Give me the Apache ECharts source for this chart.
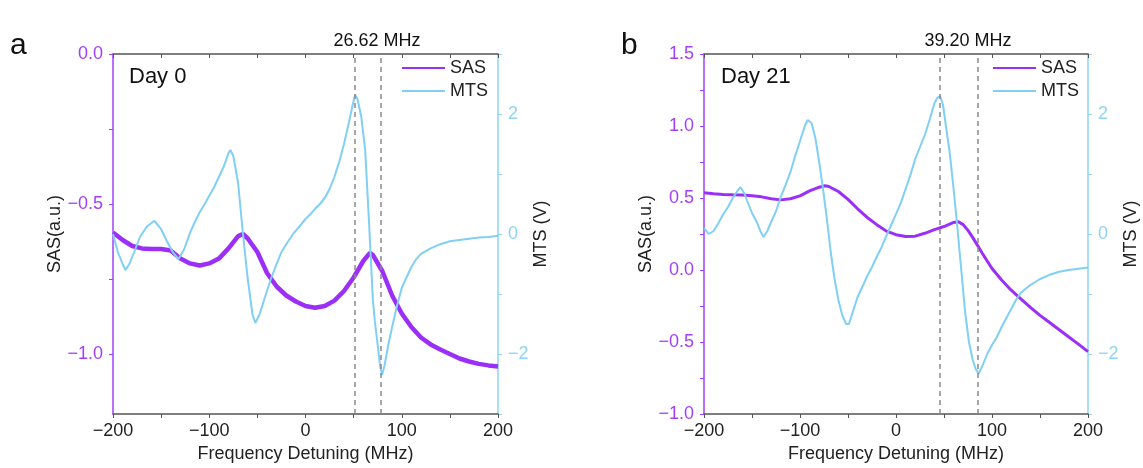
<!DOCTYPE html>
<html>
<head>
<meta charset="utf-8">
<script src="https://cdn.jsdelivr.net/npm/echarts@6/dist/echarts.min.js"></script>
<style>
html,body{margin:0;padding:0;background:#fff;}
#chart{width:1143px;height:468px;}
</style>
</head>
<body>
<div id="chart"></div>
<script>
// ---------- Panel a (Day 0) ----------
const freqSasA = [-200,-190,-180,-170,-160,-150,-140,-130,-120,-110,-100,-90,-80,-70,-65,-60,-50,-40,-30,-20,-10,0,10,20,30,40,50,60,67,70,80,90,100,110,120,130,140,150,160,170,180,190,200];
const sasA = [-0.595,-0.62,-0.64,-0.648,-0.65,-0.65,-0.655,-0.682,-0.698,-0.705,-0.698,-0.682,-0.648,-0.607,-0.600,-0.615,-0.66,-0.73,-0.775,-0.805,-0.825,-0.84,-0.846,-0.84,-0.822,-0.79,-0.745,-0.69,-0.663,-0.67,-0.725,-0.805,-0.865,-0.91,-0.945,-0.968,-0.985,-1.0,-1.015,-1.025,-1.033,-1.038,-1.042];
const freqMtsA = [-200,-195,-190,-187,-183,-178,-172,-165,-157,-150,-144,-138,-132,-126,-120,-115,-110,-103,-95,-90,-85,-80,-78,-75,-70,-65,-60,-55,-52,-48,-44,-40,-36,-30,-25,-18,-12,-5,0,5,10,15,20,25,30,35,40,45,49,51.5,54,58,62,64,66,68,70,72,75,77.5,79.5,82,86,90,95,100,105,110,115,120,130,140,150,160,170,180,190,200];
const mtsA = [0.0,-0.3,-0.5,-0.6,-0.5,-0.3,-0.05,0.12,0.22,0.08,-0.12,-0.3,-0.42,-0.25,0.02,0.2,0.36,0.55,0.78,0.95,1.12,1.35,1.4,1.3,0.85,0.0,-0.75,-1.35,-1.48,-1.35,-1.15,-0.95,-0.75,-0.5,-0.3,-0.12,0.02,0.15,0.25,0.33,0.42,0.5,0.6,0.75,0.95,1.2,1.5,1.85,2.15,2.32,2.25,1.95,1.4,0.8,0.2,-0.45,-1.1,-1.45,-1.85,-2.2,-2.35,-2.2,-1.85,-1.55,-1.2,-0.9,-0.72,-0.55,-0.42,-0.33,-0.24,-0.17,-0.12,-0.1,-0.08,-0.06,-0.05,-0.03];
const markersA = [51.6, 78.2];
const labelA = ['a', 'Day 0', '26.62 MHz'];

// ---------- Panel b (Day 21) ----------
const freqSasB = [-200,-190,-180,-170,-160,-150,-140,-130,-120,-110,-100,-90,-80,-74,-70,-60,-50,-40,-30,-20,-10,0,10,20,30,40,50,60,65,70,75,80,85,90,100,110,120,130,140,150,160,170,180,190,200];
const sasB = [0.537,0.53,0.525,0.522,0.52,0.515,0.508,0.495,0.487,0.495,0.515,0.55,0.575,0.585,0.58,0.545,0.49,0.425,0.365,0.315,0.27,0.245,0.232,0.235,0.255,0.28,0.302,0.33,0.335,0.315,0.275,0.225,0.17,0.115,0.01,-0.07,-0.14,-0.2,-0.26,-0.315,-0.365,-0.415,-0.465,-0.515,-0.567];
const freqMtsB = [-200,-195,-190,-185,-180,-175,-170,-165,-162,-158,-155,-150,-145,-141,-138,-134,-130,-125,-120,-115,-110,-105,-100,-95,-92,-88,-84,-80,-76,-72,-68,-64,-60,-56,-52,-49,-45,-40,-35,-30,-25,-20,-15,-10,-5,0,5,10,15,20,25,30,35,40,43,46,49,52,56,60,64,68,72,76,80,83,86,90,95,100,105,110,115,120,125,130,140,150,160,170,180,190,200];
const mtsB = [0.1,0.0,0.05,0.18,0.33,0.45,0.6,0.72,0.78,0.68,0.55,0.35,0.2,0.04,-0.05,0.05,0.2,0.38,0.62,0.82,1.03,1.3,1.55,1.8,1.9,1.85,1.6,1.2,0.75,0.25,-0.3,-0.75,-1.1,-1.35,-1.5,-1.5,-1.3,-1.05,-0.88,-0.7,-0.55,-0.38,-0.22,-0.03,0.15,0.33,0.52,0.75,0.98,1.25,1.45,1.65,1.9,2.18,2.27,2.3,2.15,1.8,1.35,0.75,0.1,-0.6,-1.3,-1.8,-2.1,-2.25,-2.33,-2.2,-2.0,-1.85,-1.72,-1.55,-1.4,-1.25,-1.1,-0.98,-0.85,-0.75,-0.68,-0.63,-0.6,-0.58,-0.56];
const markersB = [45.7, 84.9];
const labelB = ['b', 'Day 21', '39.20 MHz'];

// ---------- Axis ticks ----------
const xTicks = [-200,-100,0,100,200];
const sasTicksA = [-1.0,-0.5,0.0];
const sasMinorA = [-1.0,-0.75,-0.5,-0.25,0.0];
const mtsTicks = [-2,0,2];

const FONT = 'Liberation Sans, Arial, Helvetica, sans-serif';
const PURPLE = '#9b2ff7';
const PURPLE_AX = '#a33ff7';
const BLUE = '#80cff4';
const BLUE_AX = '#8dd4f5';
const GRAY = '#555555';
const TICK_FS = 18;

function fmt(v, d) { return v.toFixed(d).replace('-', '\u2212'); }
function pairs(xs, ys) { return xs.map((x, i) => [x, ys[i]]); }

const grids = [
  {left: 113, right: 645, top: 54, bottom: 54},
  {left: 704, right: 55, top: 54, bottom: 54}
];

function xAxes(gi) {
  return [
    {
      type: 'value', gridIndex: gi, position: 'bottom', min: -200, max: 200, interval: 50,
      name: 'Frequency Detuning (MHz)', nameLocation: 'middle', nameGap: 29,
      nameTextStyle: {fontFamily: FONT, fontSize: 18, color: '#222'},
      axisLine: {onZero: false, lineStyle: {color: GRAY, width: 1.5}},
      axisTick: {show: true, inside: false, length: 4, lineStyle: {color: GRAY, width: 1}},
      axisLabel: {fontFamily: FONT, fontSize: TICK_FS, color: '#222', margin: 8,
        formatter: v => (xTicks.indexOf(v) >= 0 ? fmt(v, 0) : '')},
      splitLine: {show: false}
    },
    {
      type: 'value', gridIndex: gi, position: 'top', min: -200, max: 200, interval: 50,
      axisLine: {onZero: false, lineStyle: {color: GRAY, width: 1.5}},
      axisTick: {show: true, inside: true, length: 4, lineStyle: {color: GRAY, width: 1}},
      axisLabel: {show: false},
      splitLine: {show: false}
    }
  ];
}

function rightAxis(gi) {
  return {
    type: 'value', gridIndex: gi, position: 'right', min: -3, max: 3, interval: 1,
    name: 'MTS (V)', nameLocation: 'middle', nameGap: 31, nameRotate: 90,
    nameTextStyle: {fontFamily: FONT, fontSize: 18, color: '#222'},
    axisLine: {show: true, onZero: false, lineStyle: {color: BLUE_AX, width: 1.5}},
    axisTick: {show: true, inside: false, length: 4, lineStyle: {color: BLUE_AX, width: 1}},
    axisLabel: {fontFamily: FONT, fontSize: TICK_FS, color: BLUE_AX, margin: 10,
      formatter: v => (mtsTicks.indexOf(v) >= 0 ? fmt(v, 0) : '')},
    splitLine: {show: false}
  };
}

const yAxes = [
  {
    type: 'value', gridIndex: 0, position: 'left', min: -1.2, max: 0,
    name: 'SAS(a.u.)', nameLocation: 'middle', nameGap: 49, nameRotate: 90,
    nameTextStyle: {fontFamily: FONT, fontSize: 18, color: '#222'},
    axisLine: {show: true, onZero: false, lineStyle: {color: PURPLE_AX, width: 1.5}},
    axisTick: {show: true, inside: false, length: 4, customValues: sasMinorA, lineStyle: {color: PURPLE_AX, width: 1}},
    axisLabel: {fontFamily: FONT, fontSize: TICK_FS, color: PURPLE_AX, margin: 10, customValues: sasTicksA,
      formatter: v => fmt(v, 1)},
    splitLine: {show: false}
  },
  rightAxis(0),
  {
    type: 'value', gridIndex: 1, position: 'left', min: -1.0, max: 1.5, interval: 0.25,
    name: 'SAS(a.u.)', nameLocation: 'middle', nameGap: 49, nameRotate: 90,
    nameTextStyle: {fontFamily: FONT, fontSize: 18, color: '#222'},
    axisLine: {show: true, onZero: false, lineStyle: {color: PURPLE_AX, width: 1.5}},
    axisTick: {show: true, inside: false, length: 4, lineStyle: {color: PURPLE_AX, width: 1}},
    axisLabel: {fontFamily: FONT, fontSize: TICK_FS, color: PURPLE_AX, margin: 10,
      formatter: v => (Math.abs(v * 2 - Math.round(v * 2)) < 1e-6 ? fmt(v, 1) : '')},
    splitLine: {show: false}
  },
  rightAxis(1)
];

function markLine(vals) {
  return {
    silent: true, symbol: ['none', 'none'], label: {show: false},
    lineStyle: {color: '#8a8a8a', type: [5, 4], width: 1.5},
    data: vals.map(v => ({xAxis: v}))
  };
}

const series = [
  {name: 'SAS', type: 'line', xAxisIndex: 0, yAxisIndex: 0, showSymbol: false,
   data: pairs(freqSasA, sasA), lineStyle: {color: PURPLE, width: 4.5}, itemStyle: {color: PURPLE},
   markLine: markLine(markersA), z: 2},
  {name: 'MTS', type: 'line', xAxisIndex: 0, yAxisIndex: 1, showSymbol: false,
   data: pairs(freqMtsA, mtsA), lineStyle: {color: BLUE, width: 2}, itemStyle: {color: BLUE}, z: 3},
  {name: 'SAS', type: 'line', xAxisIndex: 2, yAxisIndex: 2, showSymbol: false,
   data: pairs(freqSasB, sasB), lineStyle: {color: PURPLE, width: 3}, itemStyle: {color: PURPLE},
   markLine: markLine(markersB), z: 2},
  {name: 'MTS', type: 'line', xAxisIndex: 2, yAxisIndex: 3, showSymbol: false,
   data: pairs(freqMtsB, mtsB), lineStyle: {color: BLUE, width: 2}, itemStyle: {color: BLUE}, z: 3}
];

function legend(left) {
  return {
    left: left, top: 59, orient: 'vertical', padding: 0, itemGap: 5,
    itemWidth: 43, itemHeight: 2, icon: 'rect', selectedMode: false,
    textStyle: {fontFamily: FONT, fontSize: 18, color: '#222', lineHeight: 18},
    data: ['SAS', 'MTS']
  };
}

function texts(lbl, panelX, dayX, mhzX) {
  return [
    {type: 'text', x: panelX, y: 31, style: {text: lbl[0], font: '30px ' + FONT, fill: '#111', align: 'left', verticalAlign: 'alphabetic'}},
    {type: 'text', x: dayX, y: 77, style: {text: lbl[1], font: '22px ' + FONT, fill: '#111', align: 'left', verticalAlign: 'middle'}},
    {type: 'text', x: mhzX, y: 41, style: {text: lbl[2], font: '18px ' + FONT, fill: '#111', align: 'center', verticalAlign: 'middle'}}
  ];
}

const chart = echarts.init(document.getElementById('chart'), null, {renderer: 'canvas'});
chart.setOption({
  animation: false,
  backgroundColor: '#ffffff',
  grid: grids,
  xAxis: xAxes(0).concat(xAxes(1)),
  yAxis: yAxes,
  legend: [legend(402), legend(993)],
  series: series,
  graphic: texts(labelA, 10, 129, 377).concat(texts(labelB, 621, 721, 968))
});
</script>
</body>
</html>
